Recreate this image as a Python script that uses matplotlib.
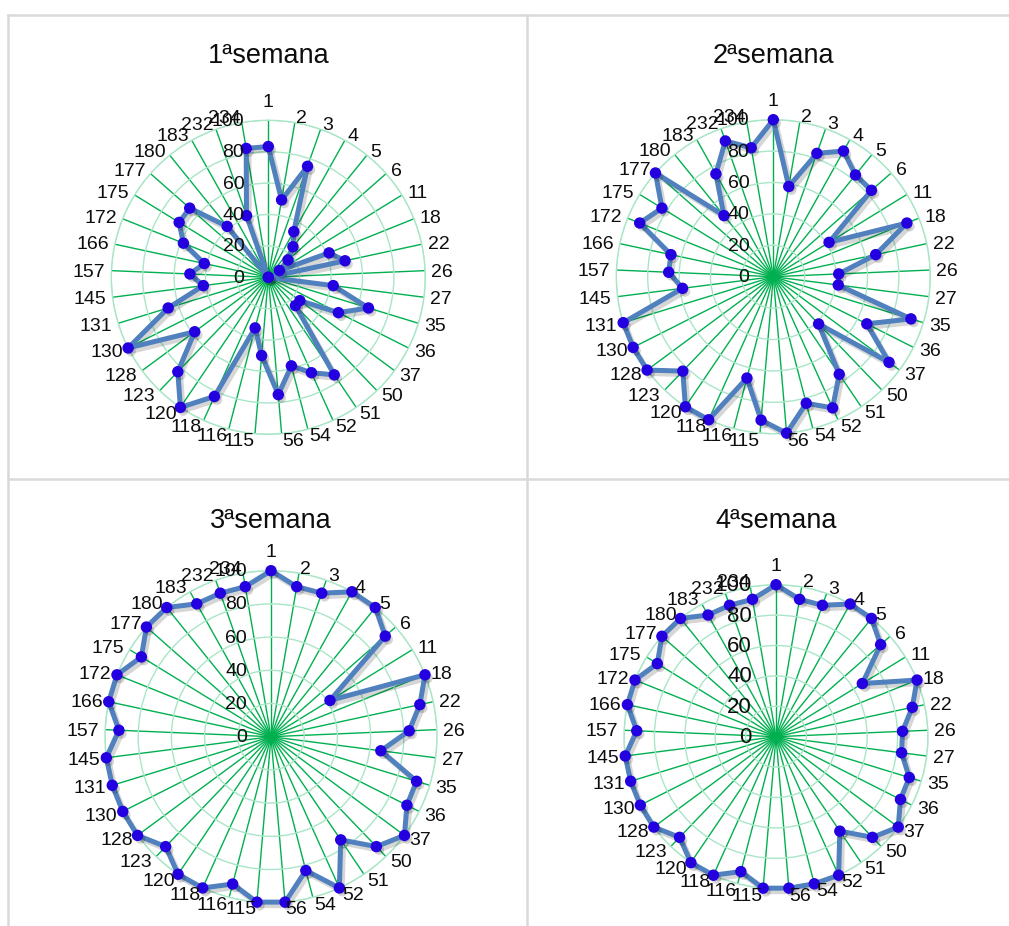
import numpy as np
import matplotlib
matplotlib.use('Agg')
import matplotlib.pyplot as plt
import matplotlib.patheffects as pe
from matplotlib.lines import Line2D

plt.rcParams['font.family'] = ['Liberation Sans', 'DejaVu Sans']

categories = ['1', '2', '3', '4', '5', '6', '11', '18', '22', '26', '27', '35', '36',
              '37', '50', '51', '52', '54', '56', '115', '116', '118', '120', '123',
              '128', '130', '131', '145', '157', '166', '172', '175', '177', '180',
              '183', '232', '234']

semana1 = [83.3, 50, 75, 33.3, 25, 16.7, 8.3, 41.7, 50, 0, 41.7, 66.7, 50, 25, 25,
           75, 66.7, 58.3, 75, 50, 33.3, 83.3, 100, 83.3, 58.3, 100, 66.7, 41.7,
           50, 41.7, 58.3, 66.7, 66.7, 41.7, 0, 41.7, 83.3]
semana2 = [100, 58.3, 83.3, 91.7, 83.3, 83.3, 41.7, 91.7, 66.7, 41.7, 41.7, 91.7,
           66.7, 91.7, 41.7, 75, 91.7, 83.3, 100, 91.7, 66.7, 100, 100, 83.3, 100,
           100, 100, 58.3, 66.7, 66.7, 91.7, 83.3, 100, 50, 75, 91.7, 83.3]
semana3 = [100, 91.7, 91.7, 100, 100, 91.7, 41.7, 100, 91.7, 83.3, 66.7, 91.7,
           91.7, 100, 91.7, 75, 100, 83.3, 100, 100, 91.7, 100, 100, 91.7, 100,
           100, 100, 100, 91.7, 100, 100, 91.7, 100, 100, 91.7, 91.7, 91.7]
semana4 = [100, 91.7, 91.7, 100, 100, 91.7, 66.7, 100, 91.7, 83.3, 83.3, 91.7,
           91.7, 100, 91.7, 75, 100, 100, 100, 100, 91.7, 100, 100, 91.7, 100,
           100, 100, 100, 91.7, 100, 100, 91.7, 100, 100, 91.7, 91.7, 91.7]

titles = ['1ªsemana', '2ªsemana', '3ªsemana', '4ªsemana']
r_ticks = [0, 20, 40, 60, 80, 100]

W, H = 1009, 926
PT = 72.0 / 100   # px -> points

SPOKE = '#00B050'
RING = '#A8E6C6'
LINE = '#5080BE'
MARK = '#2400E0'
TXT = '#0d0d0d'


def Radar(fig, cx, cy, rad, values, title, ty, rfs):
    ax = fig.add_axes([(cx - rad) / W, (H - cy - rad) / H, 2 * rad / W, 2 * rad / H],
                      projection='polar')
    n = len(categories)
    theta = np.linspace(0, 2 * np.pi, n, endpoint=False)
    ax.set_theta_zero_location('N')
    ax.set_theta_direction(-1)
    ax.set_ylim(0, 100)
    ax.set_xticks(theta)
    ax.set_xticklabels([])
    ax.set_yticks(r_ticks)
    ax.set_yticklabels([])
    ax.xaxis.grid(True, color=SPOKE, lw=1.0)
    ax.yaxis.grid(True, color=RING, lw=1.0)
    ax.spines['polar'].set_color(RING)
    ax.spines['polar'].set_linewidth(1.0)
    ax.tick_params(length=0)
    ax.set_facecolor('none')

    t = np.append(theta, theta[0])
    v = np.append(values, values[0])
    ax.plot(t, v, color=LINE, lw=3.6, clip_on=False, zorder=3,
            path_effects=[pe.SimpleLineShadow(offset=(2, -2.5), shadow_color='k', alpha=0.16),
                          pe.Normal()])
    ax.plot(theta, values, ls='none', marker='o', ms=7.2, color=MARK, clip_on=False, zorder=4,
            path_effects=[pe.SimplePatchShadow(offset=(2, -2.5), shadow_rgbFace='k', alpha=0.16),
                          pe.Normal()])

    # category labels just outside the ring (Excel style anchoring)
    for i, lab in enumerate(categories):
        sx, cyy = np.sin(theta[i]), np.cos(theta[i])
        ox = sx * 6
        if i == 0:
            ha, va = 'center', 'bottom'
            oy = cyy * 6 + 3.3
        else:
            ha = 'left' if sx > 0 else 'right'
            va = 'center'
            oy = cyy * 6 - 1.9
        ax.annotate(lab, xy=(theta[i], 100), xytext=(ox * PT, oy * PT),
                    textcoords='offset points', ha=ha, va=va,
                    fontsize=14, color=TXT, annotation_clip=False, zorder=5)

    # radial value labels left of the top spoke
    for r in r_ticks:
        ax.annotate(str(r), xy=(0, r), xytext=(-24 * PT, -1 * PT), textcoords='offset points',
                    ha='right', va='center', fontsize=rfs, color=TXT,
                    annotation_clip=False, zorder=5)

    fig.text(cx / W, 1 - ty / H, title, ha='center', va='center', fontsize=19.5, color=TXT)
    return ax


fig = plt.figure(figsize=(W / 100, H / 100), dpi=100)

# panel borders
for (x0, y0, x1, y1) in [(8, 15, 1009, 15), (8, 15, 8, 926), (527, 15, 527, 926),
                         (8, 479, 1009, 479)]:
    fig.add_artist(Line2D([x0 / W, x1 / W], [1 - y0 / H, 1 - y1 / H], color='#D9D9D9', lw=1.8))

Radar(fig, 268.3, 277.3, 157, semana1, titles[0], 56, 14)
Radar(fig, 773.3, 276.7, 157, semana2, titles[1], 56, 14)
Radar(fig, 271, 736.7, 166, semana3, titles[2], 521, 14)
Radar(fig, 776, 736.7, 152, semana4, titles[3], 521, 16)

fig.savefig('out.png', dpi=100)
